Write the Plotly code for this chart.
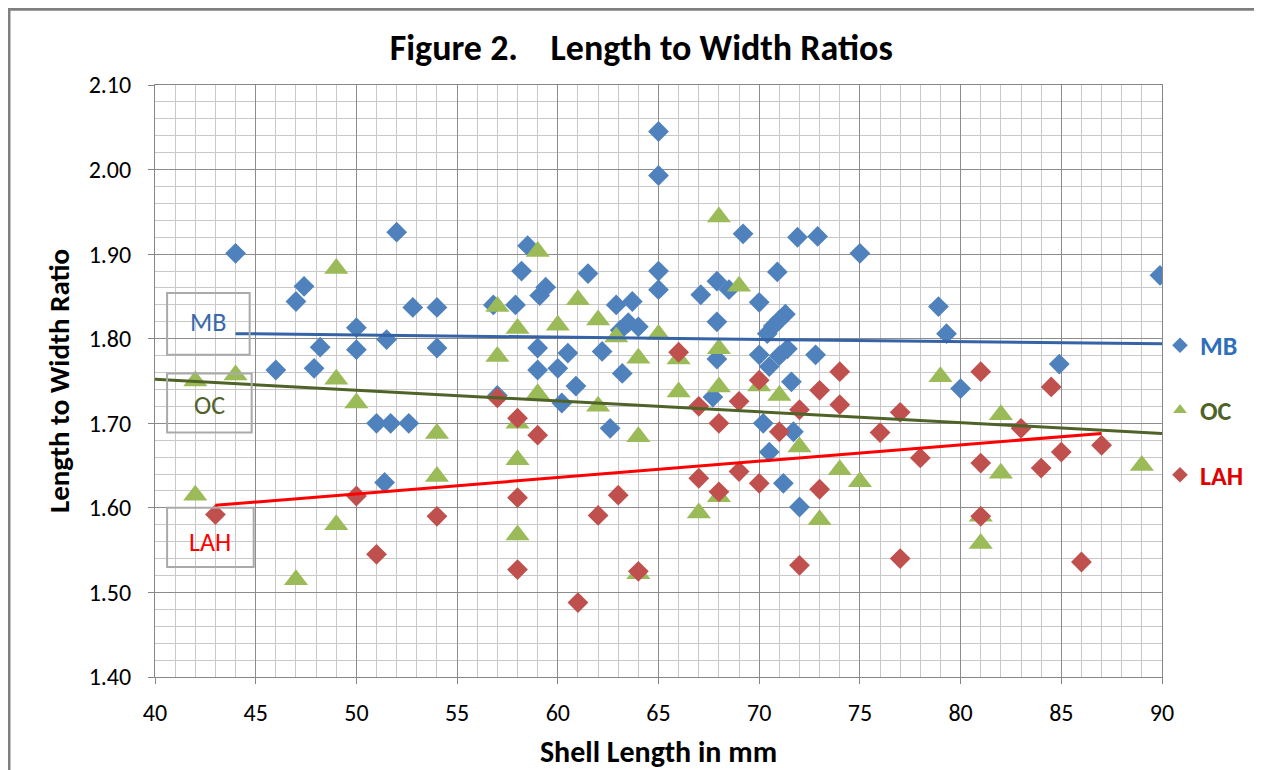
import plotly.graph_objects as go

# ---------------- data ----------------
mb_x = [44, 47, 47.4, 46, 47.9, 48.2, 50, 50, 52, 51.5, 51, 51.7, 52.6, 51.4, 52.8, 54, 54,
        65, 65, 69.2, 71.9, 72.9, 58.5, 58.2, 61.5, 65, 70.9, 67.9, 59.4, 59.1, 65, 68.5, 67.1,
        56.8, 57.9, 62.9, 63.7, 70, 63.1, 63.5, 64, 67.9, 71.3, 71, 70.7, 70.4, 59, 60.5, 62.2,
        67.9, 70, 70.5, 71, 71.4, 72.8, 59, 60, 63.2, 60.9, 71.6, 57, 60.2, 62.6, 67.7, 70.2,
        71.7, 70.5, 71.2, 72, 75, 89.9, 78.9, 79.3, 84.9, 80]
mb_y = [1.901, 1.844, 1.862, 1.763, 1.765, 1.790, 1.813, 1.787, 1.926, 1.799, 1.700, 1.700, 1.700,
        1.630, 1.837, 1.837, 1.789,
        2.045, 1.993, 1.924, 1.920, 1.921, 1.910, 1.880, 1.877, 1.880, 1.879, 1.868, 1.861, 1.851,
        1.858, 1.858, 1.852, 1.840, 1.840, 1.840, 1.844, 1.843, 1.810, 1.819, 1.814, 1.820, 1.829,
        1.822, 1.815, 1.806, 1.789, 1.783, 1.785, 1.776, 1.781, 1.767, 1.780, 1.788, 1.781, 1.763,
        1.765, 1.759, 1.744, 1.749, 1.733, 1.724, 1.694, 1.731, 1.700, 1.690, 1.666, 1.629, 1.601,
        1.901, 1.875, 1.838, 1.806, 1.770, 1.741]

oc_x = [42, 44, 42, 47, 49, 49, 49, 50, 54, 54,
        57, 57, 58, 58, 58, 58, 59, 59, 60, 61, 62, 62, 62.9, 64, 64, 64, 65, 66, 66, 67,
        68, 68, 68, 68, 69, 70, 71, 72, 73, 74, 75, 79, 81, 81, 82, 82, 89]
oc_y = [1.750, 1.757, 1.615, 1.515, 1.883, 1.752, 1.580, 1.724, 1.688, 1.637,
        1.838, 1.779, 1.812, 1.700, 1.657, 1.568, 1.903, 1.735, 1.816, 1.846, 1.822, 1.720,
        1.802, 1.777, 1.684, 1.522, 1.805, 1.776, 1.737, 1.594,
        1.944, 1.788, 1.743, 1.613, 1.862, 1.744, 1.733, 1.672, 1.586, 1.645, 1.631, 1.755,
        1.590, 1.558, 1.710, 1.641, 1.650]

lah_x = [43, 50, 51, 54, 57, 58, 58, 58, 59, 61, 62, 63, 64, 66, 67, 67, 68, 68, 69, 69, 70, 70,
         71, 72, 72, 73, 73, 74, 74, 76, 77, 77, 78, 81, 81, 81, 83, 84, 84.5, 85, 86, 87]
lah_y = [1.592, 1.614, 1.545, 1.590, 1.730, 1.706, 1.612, 1.527, 1.686, 1.488, 1.591, 1.615,
         1.525, 1.784, 1.720, 1.635, 1.700, 1.619, 1.726, 1.643, 1.751, 1.629, 1.690, 1.716,
         1.532, 1.739, 1.622, 1.761, 1.722, 1.689, 1.713, 1.540, 1.659, 1.761, 1.653, 1.590,
         1.694, 1.647, 1.743, 1.666, 1.536, 1.674]

# linear trendline end points
mb_trend_x = [44, 90]
mb_trend_y = [1.806, 1.794]
oc_trend_x = [40, 90]
oc_trend_y = [1.752, 1.688]
lah_trend_x = [43, 87]
lah_trend_y = [1.603, 1.688]

x_ticks = [40, 45, 50, 55, 60, 65, 70, 75, 80, 85, 90]
y_ticks = [1.40, 1.50, 1.60, 1.70, 1.80, 1.90, 2.00, 2.10]

# ---------------- styling ----------------
FONT = "Calibri, Carlito, Lato, sans-serif"
C_MB, C_OC, C_LAH = "#4F81BD", "#9BBB59", "#C0504D"
L_MB, L_OC, L_LAH = "#3563A5", "#4F6228", "#FF0000"

fig = go.Figure()
fig.add_trace(go.Scatter(x=mb_x, y=mb_y, mode="markers", legendgroup="mb",
                         name="<b><span style='color:#2F6EBA'>MB</span></b>",
                         marker=dict(symbol="diamond", size=16, color=C_MB, line=dict(width=0))))
fig.add_trace(go.Scatter(x=oc_x, y=oc_y, mode="markers", legendgroup="oc",
                         name="<b><span style='color:#4F6228'>OC</span></b>",
                         marker=dict(symbol="triangle-up", size=21, color=C_OC, line=dict(width=0))))
fig.add_trace(go.Scatter(x=lah_x, y=lah_y, mode="markers", legendgroup="lah",
                         name="<b><span style='color:#E00000'>LAH</span></b>",
                         marker=dict(symbol="diamond", size=16, color=C_LAH, line=dict(width=0))))
for tx, ty, col in [(mb_trend_x, mb_trend_y, L_MB), (oc_trend_x, oc_trend_y, L_OC),
                    (lah_trend_x, lah_trend_y, L_LAH)]:
    fig.add_trace(go.Scatter(x=tx, y=ty, mode="lines", showlegend=False, hoverinfo="skip",
                             line=dict(color=col, width=3)))

# label boxes
boxes = [
    (40.6, 44.7, 1.781, 1.854, "MB", "#3A68AA", 1.820),
    (40.6, 44.8, 1.689, 1.759, "OC", "#4F6228", 1.722),
    (40.6, 44.9, 1.530, 1.600, "LAH", "#FF0000", 1.560),
]
for x0, x1, y0, y1, txt, col, ty in boxes:
    fig.add_shape(type="rect", xref="x", yref="y", x0=x0, x1=x1, y0=y0, y1=y1,
                  line=dict(color="#AAAAAA", width=2), fillcolor="rgba(0,0,0,0)")
    fig.add_annotation(x=(x0 + x1) / 2, y=ty, xref="x", yref="y", text=txt, showarrow=False,
                       font=dict(family=FONT, size=26, color=col))

# outer chart border
fig.add_shape(type="rect", xref="paper", yref="paper", x0=-0.145, x1=1.107, y0=-0.174, y1=1.128,
              line=dict(color="#7F7F7F", width=3), fillcolor="rgba(0,0,0,0)", layer="below")

fig.update_layout(
    width=1254, height=762,
    margin=dict(l=147, r=100, t=77, b=93, autoexpand=False),
    paper_bgcolor="white", plot_bgcolor="white",
    font=dict(family=FONT, color="#000000"),
    title=dict(text="<b>Figure 2.&nbsp;&nbsp;&nbsp; Length to Width Ratios</b>",
               x=0.505, xanchor="center",
               y=0.948, yanchor="middle", font=dict(family=FONT, size=36, color="#000000")),
    showlegend=True,
    legend=dict(x=0.998, xanchor="left", y=0.600, yanchor="top", tracegroupgap=28,
                font=dict(family=FONT, size=26), itemsizing="constant",
                bgcolor="rgba(0,0,0,0)", traceorder="grouped"),
    xaxis=dict(range=[40, 90], tickvals=x_ticks, ticktext=[str(v) for v in x_ticks],
               showgrid=True, gridcolor="#8C8C8C", gridwidth=1,
               minor=dict(dtick=1, showgrid=True, gridcolor="#C8C8C8", gridwidth=1),
               showline=True, linecolor="#868686", linewidth=1, mirror=True,
               ticks="outside", ticklen=6, tickcolor="#868686", zeroline=False,
               ticklabelstandoff=8, automargin=False,
               tickfont=dict(family=FONT, size=24, color="#000000"),
               title=dict(text="<b>Shell Length in mm</b>", font=dict(family=FONT, size=30),
                          standoff=16)),
    yaxis=dict(range=[1.40, 2.10], tickvals=y_ticks, ticktext=[f"{v:.2f}" for v in y_ticks],
               showgrid=True, gridcolor="#8C8C8C", gridwidth=1,
               minor=dict(dtick=0.02, showgrid=True, gridcolor="#C8C8C8", gridwidth=1),
               showline=True, linecolor="#868686", linewidth=1, mirror=True,
               ticks="outside", ticklen=6, tickcolor="#868686", zeroline=False,
               ticklabelstandoff=12, automargin=False,
               tickfont=dict(family=FONT, size=24, color="#000000"),
               title=dict(text="<b>Length to Width Ratio</b>", font=dict(family=FONT, size=29),
                          standoff=10)),
)

fig.write_html("out.html")
